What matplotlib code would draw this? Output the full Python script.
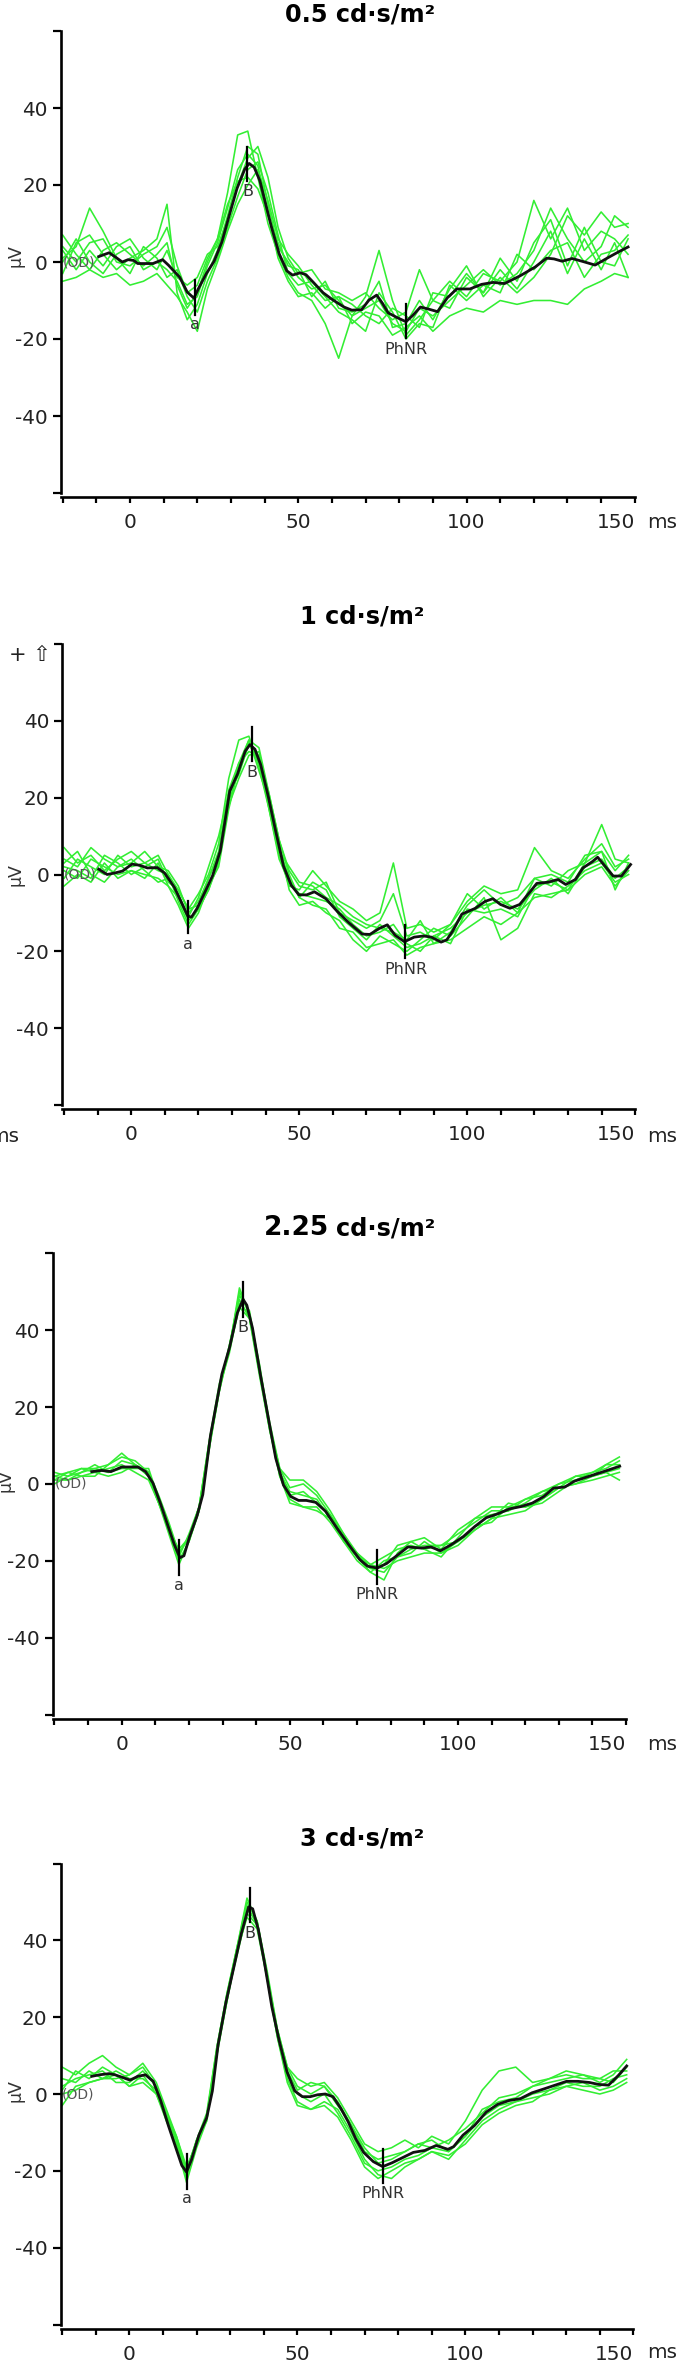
import matplotlib
matplotlib.use("Agg")
import matplotlib.pyplot as plt

# ---------------- data ----------------
titles = ["0.5 cd·s/m²", "1 cd·s/m²", "2.25 cd·s/m²", "3 cd·s/m²"]

# common time grid (ms) for the individual (green) sweeps
grid_t = [-20, -16, -12, -8, -4, 0, 4, 8, 11, 14, 17, 20, 23, 26, 29, 32, 35, 38, 41, 44,
          47, 50, 54, 58, 62, 66, 70, 74, 78, 82, 86, 90, 95, 100, 105, 110, 115, 120, 125, 130,
          135, 140, 144, 148]

# ---- panel 1 : 0.5 cd.s/m2 ----
mean1_t = [-9.3, -6.2, -4.5, -2.3, -0.6, 1.1, 2.3, 6.8, 9.7, 11.4, 14.8, 17, 19, 20.4, 22.7,
           25, 27.3, 29.5, 31.8, 34.1, 35.4, 36.9, 38.6, 40.3, 42, 44.3, 46.6, 48.3, 50.6, 52.3,
           54.5, 57.4, 60.2, 63.6, 65.9, 68.8, 71, 73.3, 75, 76.7, 79.5, 82, 84, 86.3, 88.6,
           91.4, 94.3, 97.1, 101, 104.5, 107.9, 111.3, 115.9, 120.4, 123.8, 126, 128.4, 131.4,
           134.3, 138.2, 142.2, 145.1, 148]
mean1_v = [1.4, 2.4, 1.4, 0, 0.6, 0.4, -0.4, -0.4, 0.6, -0.8, -4, -7.8, -9.4, -6.8, -3,
           0.2, 5.2, 12.1, 19.1, 24.1, 25.6, 24.6, 21.1, 15.1, 9.2, 2.2, -2.3, -3.4, -2.8, -3.3,
           -5.3, -8, -9.8, -11.7, -12.5, -12.4, -9.9, -8.6, -10.7, -13.2, -14.5, -15.5, -13.9, -11.7, -12.2,
           -12.9, -9.3, -7, -7, -5.8, -5.3, -5.6, -3.6, -1.3, 1, 0.8, 0.2, 0.9,
           0.2, -0.8, 1.2, 2.6, 3.9]
sweeps1 = [
    [7, 2, -2, 3, 5, 2, -1, 2, 5, -6, -12, -8, 0, 6, 18, 33, 34, 22, 10, 2, -4, -8, -10, -16, -25,
     -14, -12, -10, -16, -18, -12, -14, -10, -6, -2, -6, -3, 3, 14, 6, 0, 4, 12, 9],
    [-3, 5, 7, 2, -2, 1, 3, 6, 15, -8, -15, -11, -3, 3, 12, 22, 30, 28, 15, 4, 0, -4, -7, -6, -10,
     -14, -9, 3, -10, -19, -15, -10, -12, -4, -8, -2, -7, 0, 8, -3, 6, -2, 5, -4],
    [1, 4, 14, 8, 1, -3, 4, 1, -4, -2, -9, -13, -5, 1, 9, 17, 24, 26, 18, 7, -3, -6, -5, -9, -13,
     -15, -18, -8, -13, -20, -16, -17, -6, -10, -6, -8, 2, -2, 3, 5, -4, 2, 3, 7],
    [-5, -4, -2, -4, -3, -6, -5, -3, -6, -9, -13, -18, -7, 0, 8, 15, 20, 24, 16, 6, 2, -1, -6, -10, -9,
     -16, -13, -14, -19, -17, -14, -18, -14, -12, -13, -10, -11, -10, -10, -11, -7, -5, -3, -4],
    [3, -2, 3, -1, 4, 6, 1, -2, 3, -4, -6, -4, 2, 4, 11, 20, 27, 30, 22, 9, 1, -3, -2, -7, -8,
     -10, -8, -12, -15, -13, -2, -10, -5, -9, -3, -5, 0, 16, 6, 14, 3, 8, 6, 2],
    [0, 6, 0, -3, 2, 4, -2, 0, -2, -5, -11, -9, -1, 5, 14, 24, 28, 25, 13, 1, -5, -9, -8, -12, -9,
     -11, -14, -16, -12, -14, -17, -8, -9, -3, -8, 1, -5, 5, 11, -1, 9, 0, -1, 6],
    [4, 0, 5, 6, 0, -1, 2, 4, 9, -1, -8, -6, 1, 6, 15, 21, 22, 19, 12, 5, -1, -2, -9, -5, -12,
     -13, -11, -5, -17, -16, -10, -15, -7, -1, -9, -4, -8, -4, 2, 12, 7, 13, 9, 10],
]

# ---- panel 2 : 1 cd.s/m2 ----
mean2_t = [-9.7, -7.2, -4.9, -2.6, 0.2, 2.5, 4.8, 7.7, 9.9, 12.8, 15.1, 16.8, 17.9, 19.6, 21.9,
           24.2, 26.5, 29.3, 31.6, 33.9, 35.3, 36.8, 38.5, 40.8, 43, 45.3, 47.6, 49.9, 52.2, 54.5,
           57.9, 61.3, 64.8, 68.7, 71, 73.9, 76.2, 78.5, 81.3, 84.2, 87, 89.3, 92.2, 93.9, 95.6,
           98.4, 102.4, 105.3, 107.6, 109.9, 112.7, 115.6, 118.4, 120.7, 124.1, 127, 129.3, 132.2,
           134.4, 137.3, 138.8, 143.4, 145.9, 148.6]
mean2_v = [1.4, 0, 0.4, 0.9, 2.7, 2.4, 1.7, 1.8, 0.4, -3.3, -7.6, -10.8, -11.1, -8.8, -4.6,
           -0.3, 6.2, 21.7, 26.1, 32.1, 33.8, 32.6, 28.6, 20.2, 11.2, 2.2, -2.8, -5.3, -5.3, -4.5,
           -6.3, -9.6, -12.6, -15.5, -15.6, -14, -13.1, -15.8, -17.5, -16.3, -16, -16.3, -17.6, -17, -14.8,
           -10.3, -8.8, -7, -6.3, -7.8, -8.8, -7.8, -4.8, -2.3, -2, -1.3, -2.6, -1.3,
           1.7, 3.4, 4.5, -0.4, -0.4, 2.6]
sweeps2 = [
    [7, 3, 5, 1, 4, 6, 3, 5, 0, -4, -9, -5, 0, 8, 25, 35, 36, 28, 17, 5, -3, -4, 1, -3, -7,
     -9, -12, -10, 3, -14, -13, -15, -13, -7, -3, -5, -4, 7, 1, -1, 4, 8, 2, 4],
    [-3, 0, -2, 3, -1, 1, 0, -1, -3, -8, -14, -10, -3, 2, 17, 28, 35, 33, 21, 9, 0, -6, -8, -9, -14,
     -15, -19, -18, -17, -21, -19, -18, -17, -14, -11, -13, -10, -6, -5, -4, 0, 2, -3, 1],
    [3, 6, 0, -2, 2, 3, 6, 2, 1, -3, -10, -7, -1, 6, 22, 29, 32, 31, 21, 9, 1, -3, -4, -2, -10,
     -12, -14, -12, -5, -16, -15, -17, -13, -5, -9, -6, -10, -1, -3, 1, 3, 13, 4, 3],
    [1, -1, 4, 2, 0, 1, -1, 3, -3, -6, -12, -9, -4, 3, 18, 25, 31, 32, 20, 8, -4, -8, -7, -10, -12,
     -17, -20, -16, -18, -20, -17, -14, -16, -11, -6, -17, -14, -5, -6, -3, 1, 3, -2, 0],
    [4, 2, 7, 4, 2, 4, 1, -2, -1, -5, -11, -6, 2, 10, 21, 26, 34, 29, 18, 6, 2, -2, -3, -6, -8,
     -11, -13, -14, -15, -17, -12, -18, -15, -8, -4, -8, -6, -1, 0, -2, 5, 6, 1, 5],
    [-1, 4, 2, 0, 5, 2, 3, 1, 0, -7, -13, -9, -4, 4, 19, 27, 34, 30, 17, 4, -2, -5, -6, -7, -9,
     -13, -16, -15, -13, -18, -20, -16, -14, -10, -8, -7, -9, -4, -1, -5, 2, 4, -1, 2],
    [2, 1, -1, 5, 3, 0, 2, 4, -2, -4, -9, -8, -1, 5, 20, 29, 35, 27, 19, 7, -1, -6, -2, -4, -11,
     -14, -17, -13, -16, -19, -18, -16, -18, -9, -10, -9, -11, -3, -2, -4, 3, 6, -4, 3],
]

# ---- panel 3 : 2.25 cd.s/m2 ----
mean3_t = [-8.9, -6, -3.2, 0, 4.8, 7.1, 9.3, 11.6, 13.9, 15.6, 17.3, 18.5, 20.2, 22.4, 24.1,
           26.4, 29.8, 32.1, 34.4, 36.1, 37.2, 38.9, 41.2, 43.5, 45.8, 48.1, 50.3, 52.6, 54.9, 57.7,
           60.6, 64, 67.4, 70.8, 73.1, 76, 78.8, 82.2, 85.1, 89.1, 91.9, 94.8, 98.2, 101.6, 105,
           108.4, 111.8, 115.3, 118.7, 122.1, 125.5, 128.4, 131.8, 134.6, 138, 143.3, 148.1]
mean3_v = [3.2, 3.5, 3.2, 4.4, 4.4, 3.2, 0.2, -5.3, -11.3, -15.7, -19.2, -18.7, -13.7, -8.3, -2.8,
           12.6, 28.6, 35.6, 44.5, 48, 46.5, 40.5, 28.6, 17.6, 6.7, -0.3, -3.3, -4.3, -4.3, -4.8,
           -7.1, -11.5, -15.7, -19.7, -21.4, -21.9, -20.7, -18.4, -16.4, -16.7, -16.4, -17.4, -15.7, -13.7, -11.1,
           -8.8, -7.8, -6.5, -5.9, -5, -3.3, -1.1, -0.8, 0.7, 1.7, 3.2, 4.6]
sweeps3 = [
    [0, 2, 3, 4, 5, 7, 6, 3, -4, -12, -20, -15, -7, 9, 24, 36, 49, 45, 30, 16, 4, -1, 0, -3, -8,
     -14, -19, -23, -25, -18, -15, -14, -17, -12, -9, -6, -6, -4, -2, 0, 1, 3, 5, 7],
    [2, 1, 2, 3, 2, 3, 5, 2, -5, -11, -19, -13, -6, 11, 26, 35, 50, 44, 29, 15, 2, -5, -6, -6, -10,
     -15, -19, -21, -22, -20, -19, -18, -18, -16, -12, -9, -8, -7, -4, -1, 0, 1, 2, 3],
    [1, 3, 2, 2, 5, 8, 5, 3, -3, -10, -18, -14, -6, 10, 25, 34, 47, 44, 31, 15, 4, 1, 1, -2, -7,
     -13, -18, -22, -21, -16, -15, -17, -16, -13, -10, -7, -7, -5, -2, -1, 2, 3, 4, 6],
    [2, 3, 4, 3, 4, 5, 3, 1, -5, -13, -21, -15, -7, 9, 25, 36, 48, 43, 28, 14, 2, -4, -6, -7, -9,
     -15, -20, -23, -20, -19, -18, -15, -18, -15, -11, -10, -6, -6, -5, -2, 1, 2, 3, 1],
    [1, 1, 3, 5, 3, 4, 4, 4, -4, -11, -18, -14, -6, 11, 25, 35, 51, 44, 30, 15, 3, -2, -3, -4, -9,
     -14, -18, -21, -19, -17, -16, -17, -19, -14, -9, -8, -7, -4, -3, 0, 2, 2, 5, 5],
    [3, 2, 4, 4, 3, 6, 5, 2, -5, -12, -17, -14, -7, 10, 24, 35, 46, 43, 29, 14, 3, -3, -2, -5, -8,
     -13, -19, -22, -23, -19, -17, -16, -16, -15, -12, -9, -5, -6, -4, -1, 0, 2, 3, 4],
]

# ---- panel 4 : 3 cd.s/m2 ----
mean4_t = [-11.2, -8.9, -6, -4.3, -2, 0.2, 2.5, 4.8, 7.1, 9.3, 11.6, 13.9, 15.6, 17, 18.5,
           20.7, 23, 24.7, 26.4, 28.7, 31, 33.3, 35.5, 36.7, 38.4, 40.1, 42.4, 44.6, 46.9, 49.2,
           51.5, 53.8, 56, 58.3, 60.6, 62.9, 65.1, 67.4, 69.7, 72.6, 75.4, 78.2, 81.7, 84.5, 87.9,
           91.3, 94.8, 96.5, 99.3, 102.7, 106.2, 109.6, 113, 116.4, 119.8, 123.3, 126.7, 130.1,
           133.5, 136.9, 139.6, 142.6, 145.5, 148]
mean4_v = [4.6, 5, 5.3, 5, 4.3, 3.6, 4.6, 5, 3.3, -1.7, -8.2, -14.2, -18.6, -20.3, -17.1,
           -10.7, -6.2, 0.8, 12.8, 23.7, 32.7, 41.7, 48.7, 48.2, 42.7, 34.7, 22.7, 13.8, 5.8, 0.8,
           -0.7, -0.7, -0.2, 0, -0.7, -3.7, -7.2, -11.7, -15.2, -17.6, -18.9, -17.9, -16.4, -15.2, -14.7,
           -13.4, -14.4, -13.7, -10.7, -8.2, -4.7, -2.7, -1.7, -1.2, 0.3, 1.3, 2.3, 3.3,
           3.3, 3, 2.5, 2.3, 4.8, 7.3]
sweeps4 = [
    [7, 5, 8, 10, 7, 5, 8, 3, -4, -11, -20, -12, -5, 12, 26, 38, 50, 45, 32, 17, 7, 4, 2, 3, -1,
     -7, -13, -15, -14, -12, -14, -11, -13, -7, 1, 6, 7, 3, 4, 6, 5, 3, 5, 9],
    [-3, 2, 3, 4, 5, 2, 3, 0, -7, -13, -23, -14, -7, 10, 24, 37, 46, 43, 30, 15, 4, -2, -4, -3, -6,
     -12, -19, -22, -20, -18, -17, -15, -16, -13, -8, -5, -3, -2, 1, 2, 3, 1, 2, 4],
    [2, 4, 5, 6, 3, 3, 6, 2, -5, -12, -21, -13, -6, 11, 25, 38, 48, 45, 31, 16, 6, 1, 3, 2, -2,
     -8, -15, -17, -16, -15, -13, -12, -15, -11, -4, -2, -1, 2, 4, 5, 4, 4, 6, 6],
    [0, 1, 3, 4, 6, 4, 4, 1, -6, -12, -22, -12, -6, 10, 25, 36, 47, 44, 30, 15, 3, -3, -4, -2, -4,
     -10, -17, -21, -22, -19, -17, -15, -17, -12, -7, -4, -2, -1, 0, 2, 1, 0, 1, 3],
    [4, 3, 6, 4, 4, 5, 7, 2, -5, -11, -19, -13, -6, 12, 26, 38, 51, 45, 31, 17, 7, 2, 0, 2, -3,
     -8, -14, -18, -17, -15, -13, -14, -12, -9, -5, -1, 0, 2, 3, 4, 5, 4, 3, 7],
    [1, 6, 4, 7, 5, 2, 5, 0, -6, -12, -20, -12, -7, 11, 24, 37, 49, 44, 31, 16, 5, 0, -2, 0, -5,
     -11, -18, -20, -19, -17, -16, -14, -15, -11, -6, -3, -2, 0, 1, 3, 2, 2, 4, 5],
]

# peak markers: (label, time ms, line top, line bottom, label y)
markers1 = [("a", 19.3, -4.7, -13.7, -16.3), ("B", 34.9, 29.8, 21.0, 18.4), ("PhNR", 82.0, -11.0, -19.7, -22.7)]
markers2 = [("a", 17.0, -6.8, -15.3, -18.3), ("B", 35.9, 38.3, 29.6, 26.6), ("PhNR", 81.6, -13.1, -21.8, -24.7)]
markers3 = [("a", 16.9, -14.7, -23.7, -26.4), ("B", 36.0, 52.5, 43.5, 40.8), ("PhNR", 76.0, -17.2, -26.0, -28.9)]
markers4 = [("a", 17.0, -15.7, -24.6, -27.3), ("B", 35.9, 53.6, 44.7, 41.7), ("PhNR", 75.4, -14.2, -23.1, -25.8)]

y_ticks = [-60, -40, -20, 0, 20, 40, 60]
y_tick_labels = ["", "-40", "-20", "0", "20", "40", ""]
x_major = [0, 50, 100, 150]
x_major_labels = ["0", "50", "100", "150"]
x_minor = [-20, -10, 10, 20, 30, 40, 60, 70, 80, 90, 110, 120, 130, 140]

# ---------------- layout (pixels) ----------------
W, H = 681, 2362
fig = plt.figure(figsize=(W / 100, H / 100), dpi=100)

def fx(x):
    return x / W

def fy(y):
    return 1 - y / H

layout = [
    dict(L=61.0, R=634.8, T=31.0, B=493.0, tx=360, ty=21, ux=15, uy=256, ly=522),
    dict(L=62.4, R=635.3, T=644.0, B=1105.0, tx=362, ty=624, ux=15, uy=875, ly=1137),
    dict(L=52.8, R=626.1, T=1253.3, B=1714.5, tx=353, ty=1235, ux=6, uy=1481, ly=1745),
    dict(L=60.5, R=633.4, T=1863.5, B=2324.5, tx=362, ty=1845, ux=16, uy=2091, ly=2353),
]

means = [(mean1_t, mean1_v), (mean2_t, mean2_v), (mean3_t, mean3_v), (mean4_t, mean4_v)]
sweeps = [sweeps1, sweeps2, sweeps3, sweeps4]
markers = [markers1, markers2, markers3, markers4]

GREEN = "#33ee33"
TXT = "#222222"

for i in range(4):
    lo = layout[i]
    ax = fig.add_axes([fx(lo["L"]), fy(lo["B"]), fx(lo["R"] - lo["L"]), (lo["B"] - lo["T"]) / H])
    ax.set_xlim(-20.5, 150)
    ax.set_ylim(-60, 60)
    for s in ("top", "right"):
        ax.spines[s].set_visible(False)
    for s in ("left", "bottom"):
        ax.spines[s].set_linewidth(1.9)
    ax.spines["bottom"].set_position(("outward", 3.2))
    ax.patch.set_alpha(0)

    for sw in sweeps[i]:
        ax.plot(grid_t, sw, color=GREEN, lw=1.15, zorder=2, clip_on=False)
    mt, mv = means[i]
    ax.plot(mt, mv, color="#111111", lw=2.0, zorder=3)

    for name, t, top, bot, ly in markers[i]:
        ax.plot([t, t], [bot, top], color="black", lw=1.6, zorder=4)
        ax.text(t, ly, name, ha="center", va="center", fontsize=11.5, color="#333333", zorder=5)

    ax.text(-15.2, 0, "(OD)", ha="center", va="center", fontsize=10, color="#555555", zorder=5)

    ax.set_yticks(y_ticks, y_tick_labels)
    ax.set_xticks(x_major, x_major_labels)
    ax.set_xticks(x_minor, minor=True)
    ax.tick_params(axis="y", length=5.5, width=1.6, pad=4, labelsize=14.4, labelcolor=TXT)
    ax.tick_params(axis="x", which="both", length=4.4, width=1.6, pad=7, labelsize=14.4,
                   labelcolor=TXT)
    labs = ax.get_xticklabels()
    labs[-1].set_horizontalalignment("right")

    if i == 2:
        # the number in this title is printed slightly larger in the original
        fig.text(fx(329), fy(lo["ty"]), "2.25", ha="right", va="baseline",
                 fontsize=19, fontweight="bold", color="black")
        fig.text(fx(336), fy(lo["ty"]), "cd·s/m²", ha="left", va="baseline",
                 fontsize=17.3, fontweight="bold", color="black")
    else:
        fig.text(fx(lo["tx"]), fy(lo["ty"]), titles[i], ha="center", va="baseline",
                 fontsize=17.3, fontweight="bold", color="black")
    fig.text(fx(lo["ux"]), fy(lo["uy"]), "μV", rotation=90, ha="center", va="center",
             fontsize=12.5, color="#333333")
    fig.text(fx(647), fy(lo["ly"]), "ms", ha="left", va="center", fontsize=14.4, color=TXT)

# artefacts of the original composite
fig.text(fx(30), fy(655), "+ ⇧", ha="center", va="center", fontsize=15, color=TXT)
fig.text(fx(19), fy(1137), "ms", ha="right", va="center", fontsize=14.4, color=TXT)

fig.savefig("out.png", dpi=100)
